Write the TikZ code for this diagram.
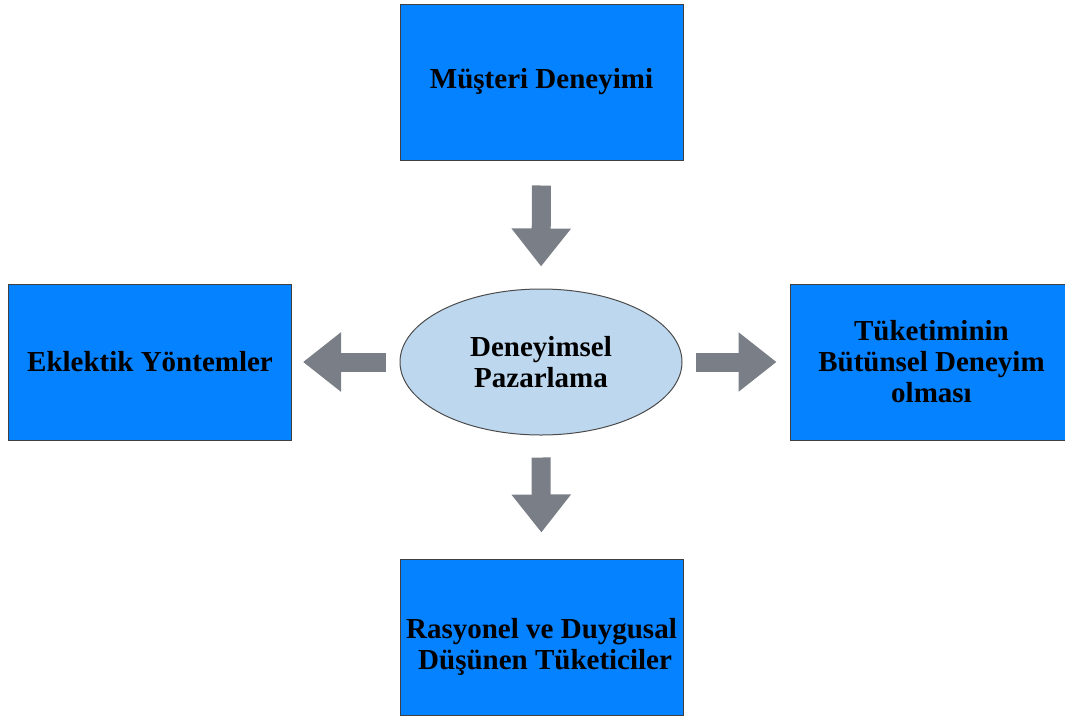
\documentclass[tikz,border=0pt]{standalone}
\usepackage{fontspec}
\setmainfont{Liberation Serif}
\usetikzlibrary{arrows.meta,shapes.geometric}

\definecolor{kutumavi}{RGB}{5,130,255}
\definecolor{elipsmavi}{RGB}{189,215,238}
\definecolor{okgri}{RGB}{122,127,135}

\tikzset{
  kutu/.style={draw=black!75, line width=1pt, fill=kutumavi, minimum width=283pt,
    minimum height=156pt, inner sep=0pt, align=center, font=\fontsize{29}{31}\selectfont\bfseries},
  elips/.style={ellipse, draw=black!70, line width=1pt, fill=elipsmavi, minimum width=282pt,
    minimum height=146pt, inner sep=0pt, align=center, font=\fontsize{29}{31}\selectfont\bfseries},
  okbuyuk/.style={okgri, line width=19pt, -{Triangle[width=57pt,length=38pt]}}
}

\begin{document}
\begin{tikzpicture}[x=1pt,y=-1pt]
\useasboundingbox (0,0) rectangle (1065,718);
\clip (0,0) rectangle (1065,718);

% kutular
\node[kutu] (ust) at (541.5,82) {M\"u\c{s}teri Deneyimi};
\node[elips] (orta) at (541,362) {Deneyimsel\\Pazarlama};
\node[kutu] (sol) at (150,362) {Eklektik Y\"ontemler};
\node[kutu] (sag) at (931.5,362) {T\"uketiminin\\B\"ut\"unsel Deneyim\\olmas\i};
\node[kutu] (alt) at (541.5,637) {\raisebox{-17pt}[0pt][0pt]{\begin{tabular}{@{}c@{}}Rasyonel ve Duygusal\\~D\"u\c{s}\"unen T\"uketiciler\end{tabular}}};

% oklar
\draw[okbuyuk, shorten <=25pt, shorten >=22pt] (ust.south) -- (orta.north);
\draw[okbuyuk, shorten <=22pt, shorten >=26pt] (orta.south) -- (alt.north);
\draw[okbuyuk, shorten <=14pt, shorten >=11pt] (orta.west) -- (sol.east);
\draw[okbuyuk, shorten <=13pt, shorten >=13pt] (orta.east) -- (sag.west);

\end{tikzpicture}
\end{document}
